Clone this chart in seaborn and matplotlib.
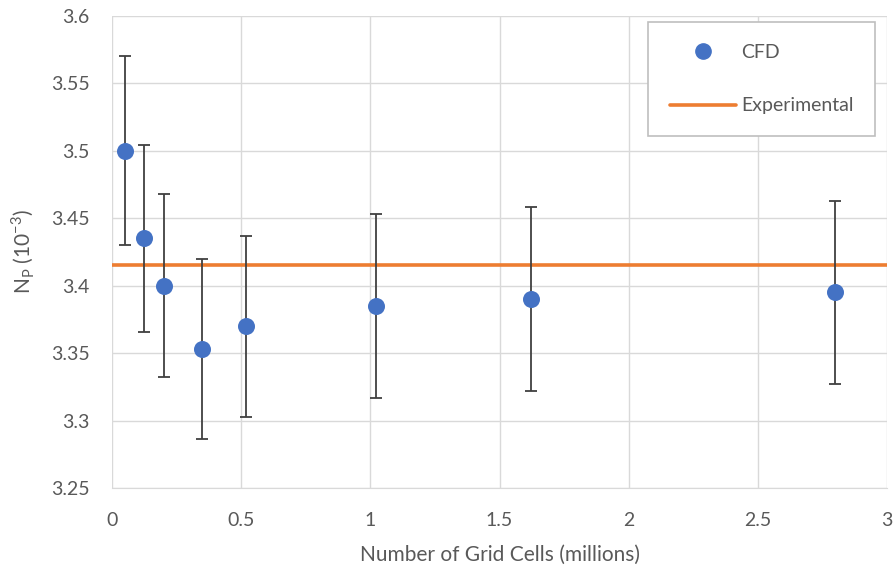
import numpy as np
import pandas as pd
import matplotlib
matplotlib.use("Agg")
import matplotlib.pyplot as plt
import seaborn as sns
from matplotlib.lines import Line2D

# Data
grid_cells = [0.05, 0.125, 0.2, 0.35, 0.52, 1.02, 1.62, 2.8]
np_cfd = [3.500, 3.435, 3.400, 3.353, 3.370, 3.385, 3.390, 3.395]
np_err = [0.070, 0.069, 0.068, 0.067, 0.067, 0.068, 0.068, 0.068]
np_exp = 3.415

x_ticks = [0, 0.5, 1, 1.5, 2, 2.5, 3]
x_labels = ["0", "0.5", "1", "1.5", "2", "2.5", "3"]
y_ticks = [3.25, 3.3, 3.35, 3.4, 3.45, 3.5, 3.55, 3.6]
y_labels = ["3.25", "3.3", "3.35", "3.4", "3.45", "3.5", "3.55", "3.6"]

df = pd.DataFrame({"cells": grid_cells, "np": np_cfd, "err": np_err})

sns.set_style("whitegrid")
plt.rcParams["font.family"] = ["Lato", "DejaVu Sans"]
plt.rcParams["axes.unicode_minus"] = False
plt.rcParams["mathtext.fontset"] = "custom"
plt.rcParams["mathtext.rm"] = "Lato"

fig = plt.figure(figsize=(8.94, 5.73), dpi=100)
ax = fig.add_axes([0.1253, 0.1483, 0.867, 0.824])

blue = "#4472C4"
orange = "#ED7D31"
grey_txt = "#595959"

# Experimental reference line
ax.axhline(np_exp, color=orange, lw=2.6, zorder=2)

# Error bars then CFD points
ax.errorbar(df["cells"], df["np"], yerr=df["err"], fmt="none",
            ecolor="#404040", elinewidth=1.3, capsize=4.5, capthick=1.3, zorder=3)
sns.scatterplot(data=df, x="cells", y="np", ax=ax, color=blue, s=150,
                edgecolor=blue, linewidth=0, zorder=4, legend=False)

ax.set_xlim(0, 3)
ax.set_ylim(3.25, 3.6)
ax.set_xticks(x_ticks)
ax.set_xticklabels(x_labels)
ax.set_yticks(y_ticks)
ax.set_yticklabels(y_labels)
ax.grid(True, color="#D9D9D9", lw=1.0)
for s in ax.spines.values():
    s.set_visible(False)
ax.spines["bottom"].set_visible(True)
ax.spines["bottom"].set_color("#D9D9D9")
ax.tick_params(axis="both", length=0, labelsize=14, colors=grey_txt)
ax.tick_params(axis="y", pad=16)
ax.tick_params(axis="x", pad=17)

ax.set_xlabel("Number of Grid Cells (millions)", fontsize=15, color=grey_txt, labelpad=12)
ax.set_ylabel("N$_\\mathregular{P}$ (10$^\\mathregular{-3}$)", fontsize=15, color=grey_txt, labelpad=10)

handles = [
    Line2D([], [], marker="o", ls="none", color=blue, markersize=11),
    Line2D([], [], color=orange, lw=2.6),
]
leg = ax.legend(handles, ["CFD", "Experimental"], loc="upper right",
                bbox_to_anchor=(0.99, 0.995), frameon=True, fancybox=False,
                edgecolor="#BFBFBF", framealpha=1, fontsize=14,
                labelspacing=1.9, borderpad=1.1, handlelength=3.4,
                handletextpad=0.3, borderaxespad=0.2)
leg.get_frame().set_linewidth(1.2)
for t in leg.get_texts():
    t.set_color(grey_txt)

plt.savefig("out.png", dpi=100)
